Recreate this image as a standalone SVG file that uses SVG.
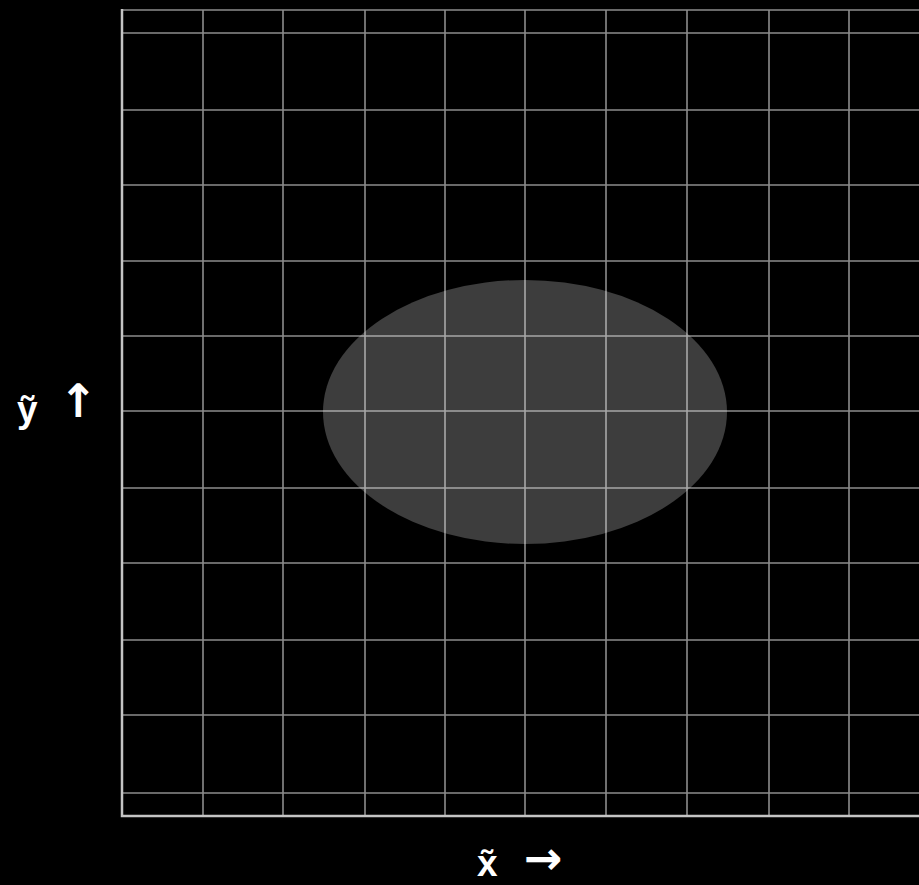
<svg xmlns="http://www.w3.org/2000/svg" width="919" height="885" viewBox="0 0 919 885">
<style>
.g{stroke:#8c8c8c;stroke-width:1.6;fill:none}
.b{stroke:#c4c4c4;stroke-width:2.5;fill:none}
.t{font-family:"Liberation Sans",Arial,sans-serif;font-weight:bold;font-size:37px;fill:#ffffff}
.a{font-family:"DejaVu Sans",sans-serif;font-weight:bold;font-size:46px}
</style>
<rect width="919" height="885" fill="#000"/>
<g id="grid">
<path class="g" d="M122 10H919M122 33H919M122 110H919M122 185H919M122 261H919M122 336H919M122 411H919M122 488H919M122 563H919M122 640H919M122 715H919M122 793H919"/>
<path class="g" d="M203 10V816M283 10V816M365 10V816M445 10V816M525 10V816M606 10V816M687 10V816M769 10V816M849 10V816"/>
<path class="b" d="M122 9V816H919"/>
</g>
<g id="region">
<ellipse cx="525" cy="412" rx="202" ry="132" fill="#fff" fill-opacity="0.24"/>
</g>
<g id="labels">
<text class="t" x="17" y="422">ỹ<tspan class="a" x="59" y="417">↑</tspan></text>
<text class="t" x="477" y="876">x̃<tspan class="a" x="524" y="874">→</tspan></text>
</g>
</svg>
